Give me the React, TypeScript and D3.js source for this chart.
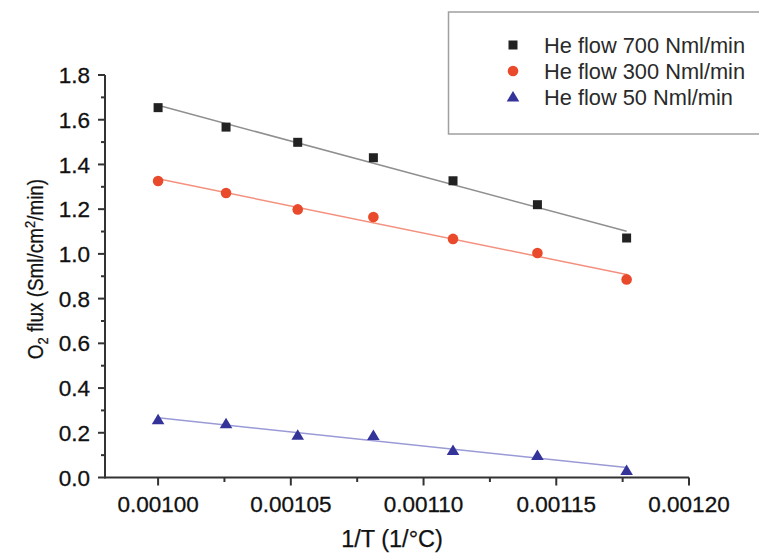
import React from "react";
import * as d3 from "d3";

const invT = [0.001, 0.0010256, 0.0010526, 0.0010811, 0.0011111, 0.0011429, 0.0011765];
const he700 = [1.654, 1.567, 1.499, 1.43, 1.327, 1.22, 1.071];
const he300 = [1.326, 1.272, 1.199, 1.165, 1.067, 1.004, 0.886];
const he50 = [0.258, 0.24, 0.189, 0.188, 0.121, 0.098, 0.031];
const seriesNames = ["He flow 700 Nml/min", "He flow 300 Nml/min", "He flow 50 Nml/min"];
const xTicks = [0.001, 0.00105, 0.0011, 0.00115, 0.0012];
const xMinor = [0.001025, 0.001075, 0.001125, 0.001175];
const yTicks = [0, 0.2, 0.4, 0.6, 0.8, 1.0, 1.2, 1.4, 1.6, 1.8];
const yMinor = [0.1, 0.3, 0.5, 0.7, 0.9, 1.1, 1.3, 1.5, 1.7];

const W = 759;
const H = 554;
const FONT = "'Liberation Sans', Arial, sans-serif";

const x = d3.scaleLinear().domain([0.00098, 0.0012]).range([105, 689]);
const y = d3.scaleLinear().domain([0, 1.8]).range([477.5, 75]);

function fit(xs: number[], ys: number[]) {
  const mx = d3.mean(xs)!;
  const my = d3.mean(ys)!;
  let num = 0;
  let den = 0;
  xs.forEach((xv, i) => {
    num += (xv - mx) * (ys[i] - my);
    den += (xv - mx) * (xv - mx);
  });
  const b = num / den;
  const a = my - b * mx;
  const x0 = d3.min(xs)!;
  const x1 = d3.max(xs)!;
  return [
    [x0, a + b * x0],
    [x1, a + b * x1],
  ] as [number, number][];
}

const series = [
  { name: seriesNames[0], values: he700, shape: "square", fill: "#222222", line: "#8f8f8f" },
  { name: seriesNames[1], values: he300, shape: "circle", fill: "#ea4a2c", line: "#f3907e" },
  { name: seriesNames[2], values: he50, shape: "triangle", fill: "#33339a", line: "#9a9ad6" },
];

function Marker({ shape, cx, cy, fill }: { shape: string; cx: number; cy: number; fill: string }) {
  if (shape === "square") {
    return <rect x={cx - 4.5} y={cy - 4.5} width={9} height={9} fill={fill} />;
  }
  if (shape === "circle") {
    return <circle cx={cx} cy={cy} r={5.3} fill={fill} />;
  }
  const p = d3.path();
  p.moveTo(cx, cy - 6);
  p.lineTo(cx + 6.3, cy + 4.5);
  p.lineTo(cx - 6.3, cy + 4.5);
  p.closePath();
  return <path d={p.toString()} fill={fill} />;
}

export default function App() {
  const line = d3
    .line<[number, number]>()
    .x((d) => x(d[0]))
    .y((d) => y(d[1]));
  const axisColor = "#333";
  const y0 = y(0);
  const xLeft = x.range()[0];
  const txt = "#111";
  return (
    <svg
      width={W}
      height={H}
      style={{ position: "absolute", left: 0, top: 0, background: "#fff" }}
      fontFamily={FONT}
    >
      <rect x={0} y={0} width={W} height={H} fill="#fff" />
      {series.map((s) => (
        <path key={s.name + "fit"} d={line(fit(invT, s.values)) || ""} stroke={s.line} strokeWidth={1.5} fill="none" />
      ))}
      {series.map((s) =>
        s.values.map((v, i) => (
          <Marker key={s.name + i} shape={s.shape} cx={x(invT[i])} cy={y(v)} fill={s.fill} />
        ))
      )}
      <line x1={xLeft} x2={x.range()[1]} y1={y0} y2={y0} stroke={axisColor} strokeWidth={2} />
      <line x1={xLeft} x2={xLeft} y1={y0 + 1} y2={y(1.8)} stroke={axisColor} strokeWidth={2} />
      {xTicks.map((t) => (
        <g key={"xt" + t}>
          <line x1={x(t)} x2={x(t)} y1={y0} y2={y0 + 8} stroke={axisColor} strokeWidth={2} />
          <text x={x(t)} y={512} textAnchor="middle" fontSize={22.5} fill={txt} stroke={txt} strokeWidth={0.3}>
            {t.toFixed(5)}
          </text>
        </g>
      ))}
      {xMinor.map((t) => (
        <line key={"xm" + t} x1={x(t)} x2={x(t)} y1={y0} y2={y0 + 4.5} stroke={axisColor} strokeWidth={2} />
      ))}
      {yTicks.map((t) => (
        <g key={"yt" + t}>
          <line x1={xLeft - 7} x2={xLeft} y1={y(t)} y2={y(t)} stroke={axisColor} strokeWidth={2} />
          <text x={90} y={y(t)} dy="0.36em" textAnchor="end" fontSize={22.5} fill={txt} stroke={txt} strokeWidth={0.3}>
            {t.toFixed(1)}
          </text>
        </g>
      ))}
      {yMinor.map((t) => (
        <line key={"ym" + t} x1={xLeft - 4} x2={xLeft} y1={y(t)} y2={y(t)} stroke={axisColor} strokeWidth={2} />
      ))}
      <text x={392} y={547} textAnchor="middle" fontSize={23.5} fill={txt} stroke={txt} strokeWidth={0.25}>
        1/T (1/°C)
      </text>
      <g transform="translate(43,269) rotate(-90) scale(0.86,1)">
        <text textAnchor="middle" fontSize={22} fill={txt} stroke={txt} strokeWidth={0.25}>
          O<tspan fontSize={15} dy={5}>2</tspan>
          <tspan dy={-5}> flux (Sml/cm</tspan>
          <tspan fontSize={15} dy={-8}>2</tspan>
          <tspan dy={8}>/min)</tspan>
        </text>
      </g>
      <rect x={448.5} y={12} width={340} height={122} fill="#fff" stroke="#a0a0a0" strokeWidth={1.5} />
      {series.map((s, i) => {
        const ry = 45 + i * 26;
        return (
          <g key={"lg" + s.name}>
            <Marker shape={s.shape} cx={513} cy={ry} fill={s.fill} />
            <text x={544} y={ry + 7.5} fontSize={21.8} fill="#2a2a2a">
              {s.name}
            </text>
          </g>
        );
      })}
    </svg>
  );
}
